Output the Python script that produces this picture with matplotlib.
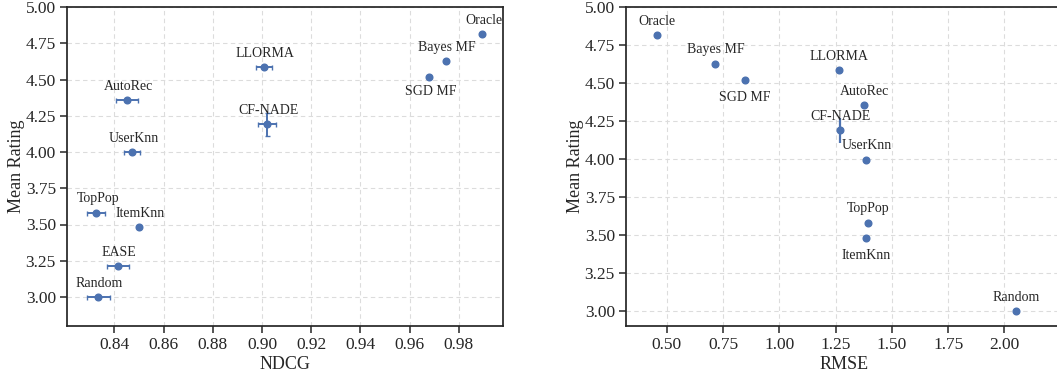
import matplotlib
matplotlib.use("Agg")
import matplotlib.pyplot as plt
import numpy as np

# ---- data ----
models = ["Oracle", "Bayes MF", "SGD MF", "LLORMA", "AutoRec", "CF-NADE",
          "UserKnn", "TopPop", "ItemKnn", "EASE", "Random"]
ndcg = [0.9895, 0.9746, 0.9680, 0.9008, 0.8452, 0.9021,
        0.8473, 0.8327, 0.8500, 0.8414, 0.8335]
ndcg_err = [0.0, 0.0, 0.0, 0.0033, 0.0046, 0.0037,
            0.0032, 0.0037, 0.0, 0.0044, 0.0047]
mean_rating = [4.814, 4.628, 4.517, 4.584, 4.356, 4.190,
               3.997, 3.581, 3.482, 3.211, 3.000]
rating_err = [0.0, 0.0, 0.0, 0.0, 0.0, 0.081,
              0.0, 0.0, 0.0, 0.0, 0.0]
# RMSE values (EASE has no RMSE -> omitted on right panel)
rmse_models = ["Oracle", "Bayes MF", "SGD MF", "LLORMA", "AutoRec", "CF-NADE",
               "UserKnn", "TopPop", "ItemKnn", "Random"]
rmse = [0.457, 0.716, 0.848, 1.267, 1.378, 1.270,
        1.387, 1.394, 1.387, 2.053]
rmse_rating = [4.814, 4.628, 4.517, 4.584, 4.356, 4.190,
               3.997, 3.581, 3.482, 3.000]
rmse_rating_err = [0.0, 0.0, 0.0, 0.0, 0.0, 0.081,
                   0.0, 0.0, 0.0, 0.0]

# label placement: +1 above, -1 below
left_pos = {"SGD MF": -1}
right_pos = {"SGD MF": -1, "ItemKnn": -1}

plt.rcParams['font.family'] = ['Liberation Serif', 'DejaVu Serif']
COLOR = "#4c72b0"
DARK = "#262626"

W, H = 1057, 373
fig = plt.figure(figsize=(W / 100, H / 100), dpi=100)

def px_axes(x0, x1, ytop, ybot):
    return fig.add_axes([x0 / W, (H - ybot) / H, (x1 - x0) / W, (ybot - ytop) / H])

ax1 = px_axes(67, 503, 7, 326)
ax2 = px_axes(626, 1062, 7, 326)

def style(ax):
    for s in ax.spines.values():
        s.set_color(DARK)
        s.set_linewidth(1.25)
    ax.tick_params(axis='both', direction='out', length=5, width=1.1,
                   color=DARK, labelcolor=DARK, labelsize=12.5, pad=3)
    ax.grid(True, linestyle=(0, (4, 3)), color='#dcdcdc', linewidth=0.8)
    ax.set_axisbelow(True)

# left panel
style(ax1)
ax1.errorbar(ndcg, mean_rating, xerr=ndcg_err, yerr=rating_err, fmt='o',
             color=COLOR, ms=4.8, elinewidth=1.4, capsize=1.8, capthick=1.0,
             zorder=3)
for name, x, y in zip(models, ndcg, mean_rating):
    d = left_pos.get(name, 1)
    ax1.annotate(name, (x, y), xytext=(1, 10 if d > 0 else -10.5),
                 textcoords='offset points',
                 ha='center', va='center', fontsize=10, color=DARK)
ax1.set_xlim(0.8208, 0.9979)
ax1.set_ylim(2.8, 5.0)
ax1.set_xticks([0.84, 0.86, 0.88, 0.90, 0.92, 0.94, 0.96, 0.98])
ax1.set_xticklabels(["0.84", "0.86", "0.88", "0.90", "0.92", "0.94", "0.96", "0.98"])
ax1.set_yticks([3.0, 3.25, 3.5, 3.75, 4.0, 4.25, 4.5, 4.75, 5.0])
ax1.set_yticklabels(["3.00", "3.25", "3.50", "3.75", "4.00", "4.25", "4.50", "4.75", "5.00"])
ax1.set_xlabel("NDCG", fontsize=13, color=DARK, labelpad=2)
ax1.set_ylabel("Mean Rating", fontsize=13, color=DARK, labelpad=0.5)

# right panel
style(ax2)
ax2.errorbar(rmse, rmse_rating, yerr=rmse_rating_err, fmt='o',
             color=COLOR, ms=4.8, elinewidth=1.6, capsize=0, zorder=3)
for name, x, y in zip(rmse_models, rmse, rmse_rating):
    d = right_pos.get(name, 1)
    ax2.annotate(name, (x, y), xytext=(0, (10 if d > 0 else -12.3)),
                 textcoords='offset points',
                 ha='center', va='center', fontsize=10, color=DARK)
ax2.set_xlim(0.319, 2.256)
ax2.set_ylim(2.903, 5.0)
ax2.set_xticks([0.5, 0.75, 1.0, 1.25, 1.5, 1.75, 2.0])
ax2.set_xticklabels(["0.50", "0.75", "1.00", "1.25", "1.50", "1.75", "2.00"])
ax2.set_yticks([3.0, 3.25, 3.5, 3.75, 4.0, 4.25, 4.5, 4.75, 5.0])
ax2.set_yticklabels(["3.00", "3.25", "3.50", "3.75", "4.00", "4.25", "4.50", "4.75", "5.00"])
ax2.set_xlabel("RMSE", fontsize=13, color=DARK, labelpad=2)
ax2.set_ylabel("Mean Rating", fontsize=13, color=DARK, labelpad=0.5)

fig.savefig("out.png", dpi=100)
